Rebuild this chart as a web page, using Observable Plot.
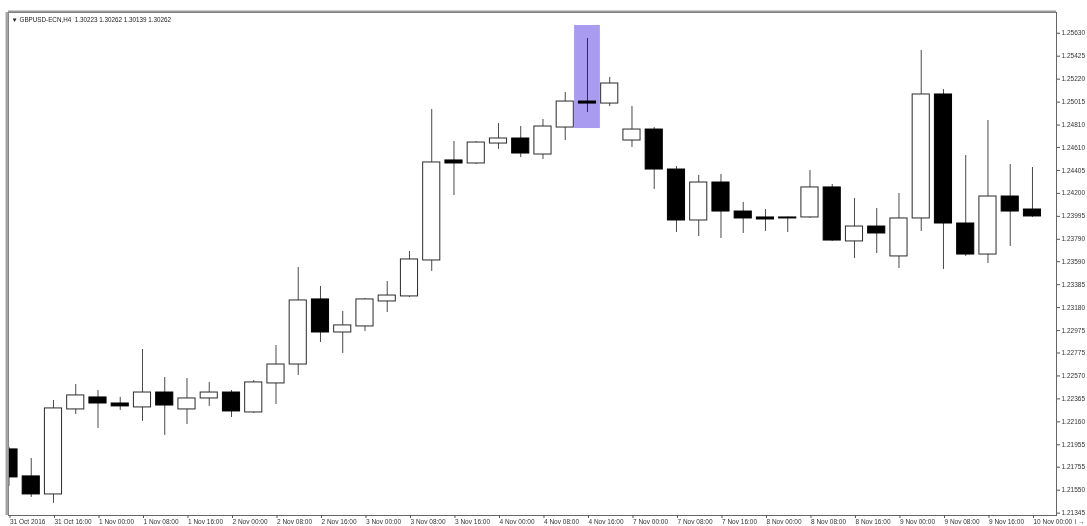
<!DOCTYPE html>
<html>
<head>
<meta charset="utf-8">
<script src="https://cdn.jsdelivr.net/npm/d3@7"></script>
<script src="https://cdn.jsdelivr.net/npm/@observablehq/plot@0.6"></script>
<style>
  html, body { margin: 0; padding: 0; background: #fff; }
  #chart { width: 1087px; height: 526px; }
</style>
</head>
<body>
<div id="chart"></div>
<script>
// ---- Data (GBPUSD H4, 31 Oct 2016 08:00 -> 10 Nov 2016 00:00) ----
const headerText = "▼ GBPUSD-ECN,H4  1.30223 1.30262 1.30139 1.30262";

const open = [1.21914,1.21673,1.21512,1.22271,1.22378,1.22324,1.22289,1.22422,1.22271,1.22369,
  1.22422,1.22244,1.22503,1.22672,1.23253,1.22958,1.23012,1.23235,1.23280,1.23601,
  1.24494,1.24467,1.24645,1.24690,1.24547,1.24788,1.25020,1.25002,1.24672,1.24770,
  1.24413,1.23958,1.24297,1.24038,1.23985,1.23985,1.23985,1.24253,1.23771,1.23904,
  1.23637,1.23976,1.25083,1.23931,1.23654,1.24172,1.24056];
const high = [1.21932,1.21833,1.22351,1.22494,1.22440,1.22378,1.22806,1.22556,1.22547,1.22512,
  1.22440,1.22530,1.22842,1.23538,1.23369,1.23146,1.23262,1.23413,1.23681,1.24949,
  1.24663,1.24663,1.24824,1.24797,1.24860,1.25101,1.25583,1.25235,1.24976,1.24788,
  1.24440,1.24360,1.24369,1.24119,1.24056,1.23990,1.24404,1.24279,1.24154,1.24065,
  1.24199,1.25476,1.25127,1.24538,1.24851,1.24458,1.24431];
const low = [1.21583,1.21485,1.21432,1.22226,1.22101,1.22262,1.22164,1.22039,1.22137,1.22298,
  1.22199,1.22235,1.22315,1.22574,1.22869,1.22771,1.22967,1.23137,1.23271,1.23503,
  1.24181,1.24458,1.24592,1.24520,1.24502,1.24672,1.24922,1.24976,1.24610,1.24235,
  1.23851,1.23815,1.23797,1.23842,1.23860,1.23851,1.23976,1.23771,1.23619,1.23663,
  1.23529,1.23860,1.23521,1.23637,1.23574,1.23726,1.23985];
const close = [1.21664,1.21512,1.22280,1.22396,1.22324,1.22298,1.22422,1.22306,1.22369,1.22422,
  1.22253,1.22512,1.22672,1.23244,1.22958,1.23021,1.23253,1.23288,1.23610,1.24476,
  1.24467,1.24654,1.24690,1.24556,1.24797,1.25020,1.25002,1.25181,1.24770,1.24413,
  1.23958,1.24297,1.24038,1.23976,1.23967,1.23976,1.24253,1.23779,1.23904,1.23842,
  1.23976,1.25083,1.23931,1.23654,1.24172,1.24038,1.23994];

// x-axis labels: one every second bar (8 hours)
const xLabels = ["31 Oct 2016","31 Oct 16:00","1 Nov 00:00","1 Nov 08:00","1 Nov 16:00",
  "2 Nov 00:00","2 Nov 08:00","2 Nov 16:00","3 Nov 00:00","3 Nov 08:00","3 Nov 16:00",
  "4 Nov 00:00","4 Nov 08:00","4 Nov 16:00","7 Nov 00:00","7 Nov 08:00","7 Nov 16:00",
  "8 Nov 00:00","8 Nov 08:00","8 Nov 16:00","9 Nov 00:00","9 Nov 08:00","9 Nov 16:00",
  "10 Nov 00:00"];

// price axis labels
const yTicks = [1.25630,1.25425,1.25220,1.25015,1.24810,1.24610,1.24405,1.24200,1.23995,
  1.23790,1.23590,1.23385,1.23180,1.22975,1.22775,1.22570,1.22365,1.22160,1.21955,
  1.21755,1.21550,1.21345];

// highlighted bar (4 Nov 16:00)
const highlightIndex = [26];
const highlightTop = 1.25699;
const highlightBottom = 1.24779;

// visible ranges
const xDomain = [-0.022, 47.08];
const yDomain = [1.21324, 1.25815];

// ---- build table ----
const bars = open.map((o, i) => ({
  i, open: o, high: high[i], low: low[i], close: close[i],
  up: close[i] >= o,
  lo: Math.min(o, close[i]), hi: Math.max(o, close[i])
}));
const xTickIdx = xLabels.map((_, j) => j * 2);
const hw = 0.385;

const chart = Plot.plot({
  width: 1087,
  height: 526,
  marginTop: 12,
  marginBottom: 11,
  marginLeft: 8,
  marginRight: 31,
  x: {domain: xDomain, axis: null},
  y: {domain: yDomain, axis: null},
  style: {fontFamily: "'Liberation Sans', Arial, sans-serif", fontSize: "6.5px", color: "#333", background: "#fff", overflow: "hidden"},
  marks: [
    // wicks
    Plot.ruleX(bars, {x: "i", y1: "low", y2: "high", stroke: "#4a4a4a", strokeWidth: 1, clip: true}),
    // bodies
    Plot.rect(bars, {
      x1: d => d.i - hw, x2: d => d.i + hw, y1: "lo", y2: "hi",
      fill: d => d.up ? "#fff" : "#000",
      stroke: d => d.up ? "#2a2a2a" : "#000",
      strokeWidth: 1, clip: true
    }),
    // highlight
    Plot.rect(highlightIndex, {
      x1: d => d - 0.58, x2: d => d + 0.58, y1: highlightBottom, y2: highlightTop,
      fill: "#a99cf0", mixBlendMode: "multiply"
    }),
    // frame
    Plot.frame({stroke: "#666", strokeWidth: 1}),
    Plot.ruleX([xDomain[0]], {stroke: "#a5a5a5", strokeWidth: 3, dx: -1.5}),
    Plot.ruleY([yDomain[1]], {stroke: "#9a9a9a", strokeWidth: 2, dy: -1}),
    // axes
    Plot.axisY(yTicks, {
      anchor: "right", tickSize: 3, tickPadding: 2, stroke: "#555",
      tickFormat: d => d.toFixed(5), fontSize: 6.5, fill: "#333"
    }),
    Plot.axisX(xTickIdx, {
      anchor: "bottom", tickSize: 3, tickPadding: 1, stroke: "#555",
      tickFormat: i => xLabels[i / 2], textAnchor: "start", dx: 1, fontSize: 6.5, fill: "#333"
    }),
    // header
    Plot.text([headerText], {frameAnchor: "top-left", dx: 3, dy: 5, fontSize: 6.3, fill: "#222", textAnchor: "start"})
  ]
});
document.getElementById("chart").appendChild(chart);
</script>
</body>
</html>
